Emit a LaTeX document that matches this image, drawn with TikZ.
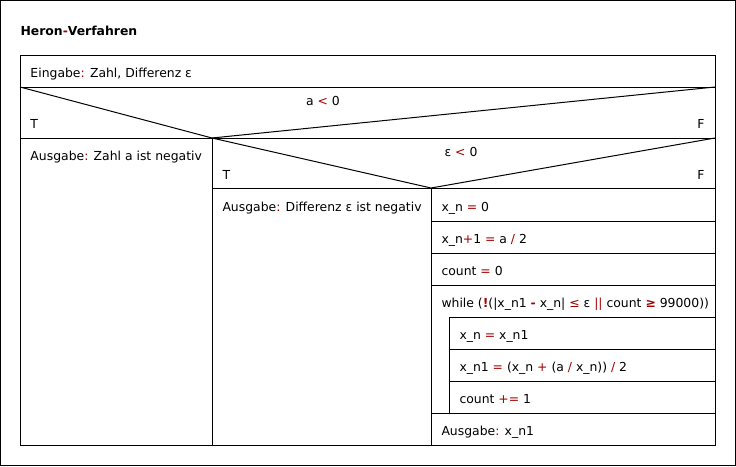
\documentclass[tikz,border=0pt]{standalone}
\usepackage{fontspec}
\setmainfont{DejaVu Sans}
\definecolor{opred}{RGB}{160,0,0}
\newcommand{\opr}[1]{\textcolor{opred}{#1}}
\begin{document}
\begin{tikzpicture}[x=1pt,y=-1pt,line width=1pt,
  txt/.style={anchor=base west,inner sep=0pt,font=\fontsize{12.4}{14}\selectfont},
  txtc/.style={anchor=base,inner sep=0pt,font=\fontsize{12.4}{14}\selectfont},
  txte/.style={anchor=base east,inner sep=0pt,font=\fontsize{12.4}{14}\selectfont},
  ttl/.style={anchor=base west,inner sep=0pt,font=\fontsize{12.4}{14}\selectfont\bfseries},
  frame/.style={draw=black,line width=1pt}]
\useasboundingbox (0,0) rectangle (736,466);
\draw[frame] (0.5,0.5) rectangle (735.5,465.5);
\node[ttl] (title) at (20,35) {Heron\opr{-}Verfahren};

% coordinates
\coordinate (tl) at (20,55);
\coordinate (tr) at (715,55);
\coordinate (d1l) at (20,87);
\coordinate (d1r) at (715,87);
\coordinate (a1) at (212,138);
\coordinate (d2r) at (715,138);
\coordinate (a2) at (431,188);
\coordinate (bl) at (20,445);
\coordinate (br) at (715,445);

% outer box
\draw[frame] (tl) rectangle (br);
\draw[frame] (d1l) -- (d1r);
% decision 1
\draw[frame] (d1l) -- (a1) -- (d1r);
\draw[frame] (20,138) -- (d2r);
\draw[frame] (a1) -- (212,445);
% decision 2
\draw[frame] (a1) -- (a2) -- (d2r);
\draw[frame] (212,188) -- (715,188);
\draw[frame] (a2) -- (431,445);
% right column rows
\draw[frame] (431,221) -- (715,221);
\draw[frame] (431,253) -- (715,253);
\draw[frame] (431,285) -- (715,285);
\draw[frame] (449,317) -- (715,317);
\draw[frame] (449,349) -- (715,349);
\draw[frame] (449,381) -- (715,381);
\draw[frame] (431,413) -- (715,413);
\draw[frame] (449,317) -- (449,413);

% texts
\node[txt] (inp) at (30,77) {Eingabe\opr{:} Zahl, Differenz ε};
\node[txtc] (c1) at (323,105) {a \opr{<} 0};
\node[txt] (t1) at (30,128) {T};
\node[txte] (f1) at (705,128) {F};
\node[txt] (out1) at (30,160) {Ausgabe\opr{:} Zahl a ist negativ};
\node[txtc] (c2) at (461,156) {ε \opr{<} 0};
\node[txt] (t2) at (222,179) {T};
\node[txte] (f2) at (705,179) {F};
\node[txt] (out2) at (222,211) {Ausgabe\opr{:} Differenz ε ist negativ};
\node[txt] (s1) at (441,211) {x\_n \opr{=} 0};
\node[txt] (s2) at (441,243) {x\_n\opr{+}1 \opr{=} a \opr{/} 2};
\node[txt] (s3) at (441,275) {count \opr{=} 0};
\node[txt] (w) at (441,307) {while (\opr{\textbf{!}}(|x\_n1 \opr{\textbf{-}} x\_n| \opr{≤} ε \opr{||} count \opr{\textbf{≥}} 99000))};
\node[txt] (b1) at (459,339) {x\_n \opr{=} x\_n1};
\node[txt] (b2) at (459,371) {x\_n1 \opr{=} (x\_n \opr{+} (a \opr{/} x\_n)) \opr{/} 2};
\node[txt] (b3) at (459,403) {count \opr{+=} 1};
\node[txt] (out3) at (441,435) {Ausgabe\opr{:} x\_n1};
\end{tikzpicture}
\end{document}
